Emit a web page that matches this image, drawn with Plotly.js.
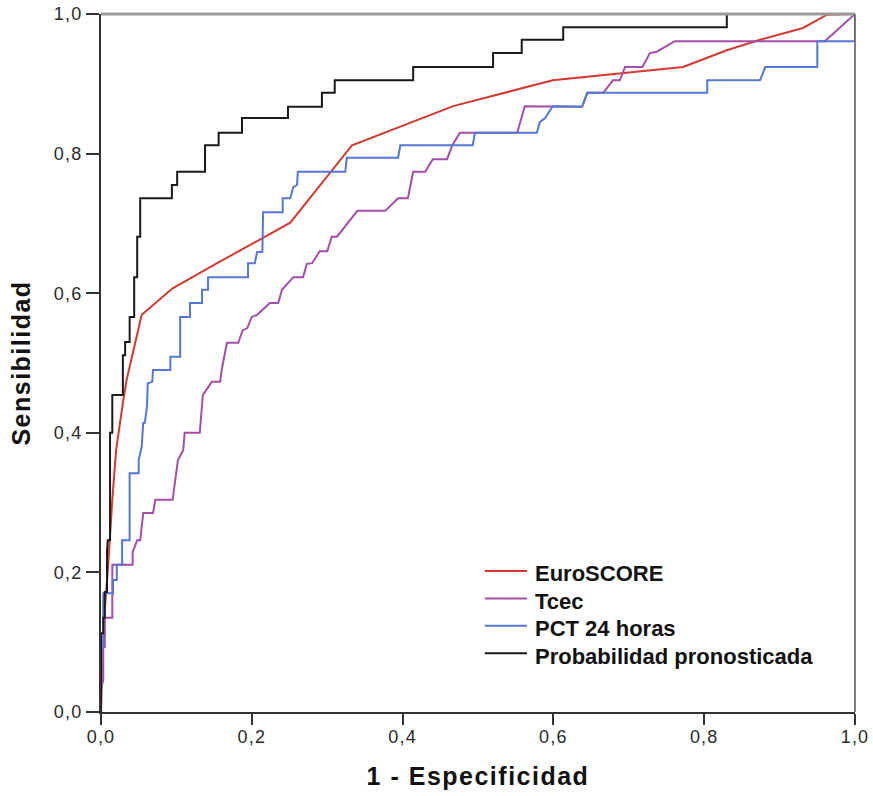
<!DOCTYPE html>
<html>
<head>
<meta charset="utf-8">
<script src="https://cdn.plot.ly/plotly-3.0.1.min.js"></script>
<style>
  html, body { margin: 0; padding: 0; background: #fff; }
  #roc { width: 873px; height: 796px; }
  /* slightly wider lettering for tick labels and axis titles */
  #roc .xtick text, #roc .ytick text { letter-spacing: 1.2px; }
  #roc .g-xtitle text, #roc .g-ytitle text { letter-spacing: 1.5px; }
</style>
</head>
<body>
<div id="roc"></div>
<script>
// ROC curves: 1 - specificity (fpr) against sensitivity (tpr)
const seriesNames = ["EuroSCORE", "Tcec", "PCT 24 horas", "Probabilidad pronosticada"];

const euroFpr = [0, 0.001, 0.005, 0.009, 0.015, 0.020, 0.029, 0.034, 0.054, 0.095, 0.154, 0.251, 0.333, 0.467, 0.599, 0.772, 0.830, 0.874, 0.931, 0.963, 1];
const euroTpr = [0, 0.046, 0.146, 0.203, 0.304, 0.375, 0.443, 0.476, 0.569, 0.607, 0.643, 0.701, 0.812, 0.868, 0.905, 0.924, 0.948, 0.963, 0.980, 0.999, 1];

const tcecFpr = [0, 0, 0.003, 0.003, 0.005, 0.005, 0.015, 0.015, 0.042, 0.042, 0.048, 0.052, 0.056, 0.069, 0.072, 0.095, 0.102, 0.109, 0.111, 0.131, 0.135, 0.147, 0.158, 0.160, 0.167, 0.182, 0.188, 0.194, 0.200, 0.207, 0.224, 0.235, 0.240, 0.255, 0.268, 0.273, 0.280, 0.290, 0.300, 0.306, 0.313, 0.340, 0.377, 0.394, 0.407, 0.414, 0.430, 0.440, 0.459, 0.466, 0.476, 0.552, 0.562, 0.638, 0.645, 0.666, 0.679, 0.688, 0.695, 0.718, 0.728, 0.737, 0.761, 0.960, 1];
const tcecTpr = [0, 0.032, 0.046, 0.093, 0.093, 0.135, 0.135, 0.211, 0.211, 0.229, 0.246, 0.246, 0.285, 0.285, 0.304, 0.304, 0.361, 0.375, 0.400, 0.400, 0.454, 0.473, 0.473, 0.490, 0.529, 0.529, 0.547, 0.550, 0.566, 0.569, 0.586, 0.586, 0.605, 0.623, 0.623, 0.642, 0.643, 0.660, 0.660, 0.681, 0.681, 0.718, 0.718, 0.736, 0.736, 0.774, 0.774, 0.792, 0.792, 0.812, 0.830, 0.830, 0.868, 0.867, 0.887, 0.887, 0.905, 0.905, 0.924, 0.924, 0.944, 0.946, 0.961, 0.961, 1];

const pctFpr = [0, 0, 0.001, 0.001, 0.003, 0.003, 0.016, 0.016, 0.021, 0.021, 0.028, 0.028, 0.038, 0.038, 0.050, 0.050, 0.054, 0.056, 0.058, 0.061, 0.062, 0.068, 0.069, 0.092, 0.092, 0.105, 0.105, 0.118, 0.118, 0.134, 0.134, 0.142, 0.142, 0.195, 0.195, 0.204, 0.207, 0.214, 0.215, 0.241, 0.241, 0.251, 0.255, 0.260, 0.261, 0.324, 0.326, 0.394, 0.397, 0.493, 0.496, 0.578, 0.582, 0.589, 0.599, 0.638, 0.645, 0.804, 0.804, 0.874, 0.881, 0.950, 0.950, 1, 1];
const pctTpr = [0, 0.046, 0.046, 0.093, 0.093, 0.170, 0.170, 0.189, 0.189, 0.211, 0.211, 0.246, 0.246, 0.342, 0.342, 0.361, 0.380, 0.414, 0.414, 0.437, 0.471, 0.473, 0.490, 0.490, 0.509, 0.509, 0.566, 0.566, 0.586, 0.586, 0.605, 0.605, 0.623, 0.623, 0.643, 0.643, 0.659, 0.659, 0.716, 0.716, 0.736, 0.736, 0.752, 0.755, 0.774, 0.774, 0.794, 0.794, 0.812, 0.812, 0.830, 0.830, 0.845, 0.851, 0.868, 0.867, 0.887, 0.887, 0.905, 0.905, 0.924, 0.924, 0.961, 0.961, 1];

const probFpr = [0, 0, 0.003, 0.003, 0.005, 0.005, 0.008, 0.008, 0.009, 0.012, 0.012, 0.015, 0.015, 0.029, 0.029, 0.032, 0.032, 0.038, 0.038, 0.044, 0.044, 0.048, 0.048, 0.052, 0.052, 0.094, 0.094, 0.101, 0.101, 0.138, 0.138, 0.156, 0.156, 0.187, 0.187, 0.248, 0.248, 0.293, 0.293, 0.310, 0.310, 0.414, 0.414, 0.520, 0.520, 0.558, 0.558, 0.613, 0.613, 0.830, 0.830, 1];
const probTpr = [0, 0.113, 0.113, 0.135, 0.135, 0.172, 0.172, 0.232, 0.246, 0.246, 0.400, 0.400, 0.454, 0.454, 0.511, 0.511, 0.530, 0.530, 0.566, 0.566, 0.623, 0.623, 0.681, 0.681, 0.736, 0.736, 0.755, 0.755, 0.774, 0.774, 0.812, 0.812, 0.830, 0.830, 0.851, 0.851, 0.867, 0.867, 0.887, 0.887, 0.905, 0.905, 0.924, 0.924, 0.944, 0.944, 0.963, 0.963, 0.981, 0.981, 1, 1];

const axisTicks = [0, 0.2, 0.4, 0.6, 0.8, 1.0];
const axisTickText = ["0,0", "0,2", "0,4", "0,6", "0,8", "1,0"];

const colors = ["#d2392f", "#a44ea8", "#5577d8", "#1a1a1a"];
const xs = [euroFpr, tcecFpr, pctFpr, probFpr];
const ys = [euroTpr, tcecTpr, pctTpr, probTpr];

const traces = seriesNames.map((name, i) => ({
  type: "scatter",
  mode: "lines",
  name: name,
  x: xs[i],
  y: ys[i],
  line: { color: colors[i], width: 2, shape: "linear" },
  hoverinfo: "skip",
  showlegend: false
}));

const font = "Liberation Sans, Arial, sans-serif";

const axisCommon = {
  range: [0, 1],
  tickvals: axisTicks,
  ticktext: axisTickText,
  ticks: "outside",
  tickwidth: 2,
  tickcolor: "#333",
  showline: true,
  linecolor: "#333",
  linewidth: 2,
  showgrid: false,
  zeroline: false,
  tickfont: { family: font, size: 18, color: "#2a2a2a" },
  fixedrange: true
};

// key: a short line sample and a bold label per series, stacked in the lower right
const keyTop = 0.202, keyStep = 0.0393;
const keyShapes = [], keyLabels = [];
seriesNames.forEach((name, i) => {
  const y = keyTop - i * keyStep;
  keyShapes.push({ type: "line", xref: "paper", yref: "paper", x0: 0.509, x1: 0.565, y0: y, y1: y,
                   line: { color: colors[i], width: 2 } });
  keyLabels.push({ xref: "paper", yref: "paper", x: 0.573, y: y - 0.004, xanchor: "left", yanchor: "middle",
                   text: name, showarrow: false,
                   font: { family: font, size: 22, color: "#111", weight: "bold" } });
});

const layout = {
  width: 873,
  height: 796,
  margin: { l: 101, r: 18, t: 14, b: 84 },
  paper_bgcolor: "#fff",
  plot_bgcolor: "#fff",
  showlegend: false,
  xaxis: Object.assign({}, axisCommon, {
    ticklen: 11,
    ticklabelstandoff: -4,
    title: { text: "1 - Especificidad", font: { family: font, size: 25, color: "#111", weight: "bold" }, standoff: 22 }
  }),
  yaxis: Object.assign({}, axisCommon, {
    ticklen: 13,
    title: { text: "Sensibilidad", font: { family: font, size: 25, color: "#111", weight: "bold" }, standoff: 20 }
  }),
  annotations: keyLabels,
  shapes: [
    { type: "line", xref: "paper", yref: "paper", x0: 0, x1: 1, y0: 1, y1: 1, line: { color: "#9a9a9a", width: 3 } },
    { type: "line", xref: "paper", yref: "paper", x0: 1, x1: 1, y0: 0, y1: 1, line: { color: "#555", width: 1.5 } }
  ].concat(keyShapes)
};

Plotly.newPlot("roc", traces, layout, { displayModeBar: false, staticPlot: true });
</script>
</body>
</html>
